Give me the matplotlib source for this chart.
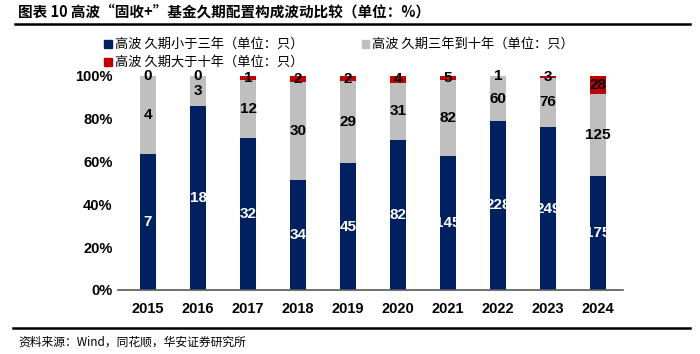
import matplotlib.pyplot as plt
import numpy as np
from matplotlib.lines import Line2D

plt.rcParams['font.family'] = ['Noto Sans CJK SC', 'DejaVu Sans']

years = ['2015', '2016', '2017', '2018', '2019', '2020', '2021', '2022', '2023', '2024']
short = [7, 18, 32, 34, 45, 82, 145, 228, 249, 175]      # 久期小于三年
mid = [4, 3, 12, 30, 29, 31, 82, 60, 76, 125]            # 久期三年到十年
long_ = [0, 0, 1, 2, 2, 4, 5, 1, 3, 28]                  # 久期大于十年

names = ['高波 久期小于三年（单位：只）', '高波 久期三年到十年（单位：只）', '高波 久期大于十年（单位：只）']
colors = ['#002060', '#BFBFBF', '#C00000']

total = np.array(short) + np.array(mid) + np.array(long_)
shares = [np.array(s) / total for s in (short, mid, long_)]

fig = plt.figure(figsize=(7, 3.54), dpi=100)
ax = fig.add_axes([0.1686, 0.1808, 0.7214, 0.6054])

x = np.arange(len(years))
bottom = np.zeros(len(years))
num_font = dict(family='Liberation Sans', fontweight='bold', fontsize=11)
for vals, sh, c, name in zip((short, mid, long_), shares, colors, names):
    ax.bar(x, sh, width=0.33, bottom=bottom, color=c, label=name)
    for i in range(len(years)):
        y = bottom[i] + sh[i] / 2
        tc = 'white' if c == '#002060' else 'black'
        ax.text(x[i], y, str(vals[i]), ha='center', va='center', color=tc, **num_font)
    bottom += sh

ax.set_xlim(-0.6, 9.5)
ax.set_ylim(0, 1)
ax.set_xticks(x)
ax.set_xticklabels(years)
ax.set_yticks(np.arange(0, 1.01, 0.2))
ax.set_yticklabels([f'{int(v*100)}%' for v in np.arange(0, 1.01, 0.2)])
for lab in ax.get_xticklabels() + ax.get_yticklabels():
    lab.set_fontfamily('Liberation Sans')
    lab.set_fontweight('bold')
    lab.set_fontsize(10.5)
ax.tick_params(axis='both', length=0)
ax.tick_params(axis='x', pad=9)
ax.tick_params(axis='y', pad=4)
for s in ['top', 'right', 'left']:
    ax.spines[s].set_visible(False)
ax.spines['bottom'].set_color('#595959')
ax.spines['bottom'].set_linewidth(1.2)

# legend
leg_pos = [(108, 44), (365, 44), (108, 62)]
for (px, py), c, name in zip(leg_pos, colors, names):
    fig.patches.append(plt.Rectangle((px / 700 - 0.005, 1 - py / 354 - 0.012), 0.011, 0.022,
                                     transform=fig.transFigure, color=c))
    fig.text(px / 700 + 0.010, 1 - py / 354, name, fontsize=9.5, va='center', ha='left')

# title and source
fig.text(18 / 700, 1 - 12 / 354, '图表 10 高波“固收+”基金久期配置构成波动比较（单位：%）',
         fontsize=10.5, fontweight='bold', va='center', ha='left')
fig.add_artist(Line2D([15 / 700, 690 / 700], [1 - 24 / 354, 1 - 24 / 354], color='black', lw=1.8))
fig.add_artist(Line2D([13 / 700, 690 / 700], [1 - 328 / 354, 1 - 328 / 354], color='black', lw=1.8))
fig.text(18 / 700, 1 - 342 / 354, '资料来源：Wind，同花顺，华安证券研究所', fontsize=8.5, va='center', ha='left')

fig.savefig('out.png', dpi=100)
